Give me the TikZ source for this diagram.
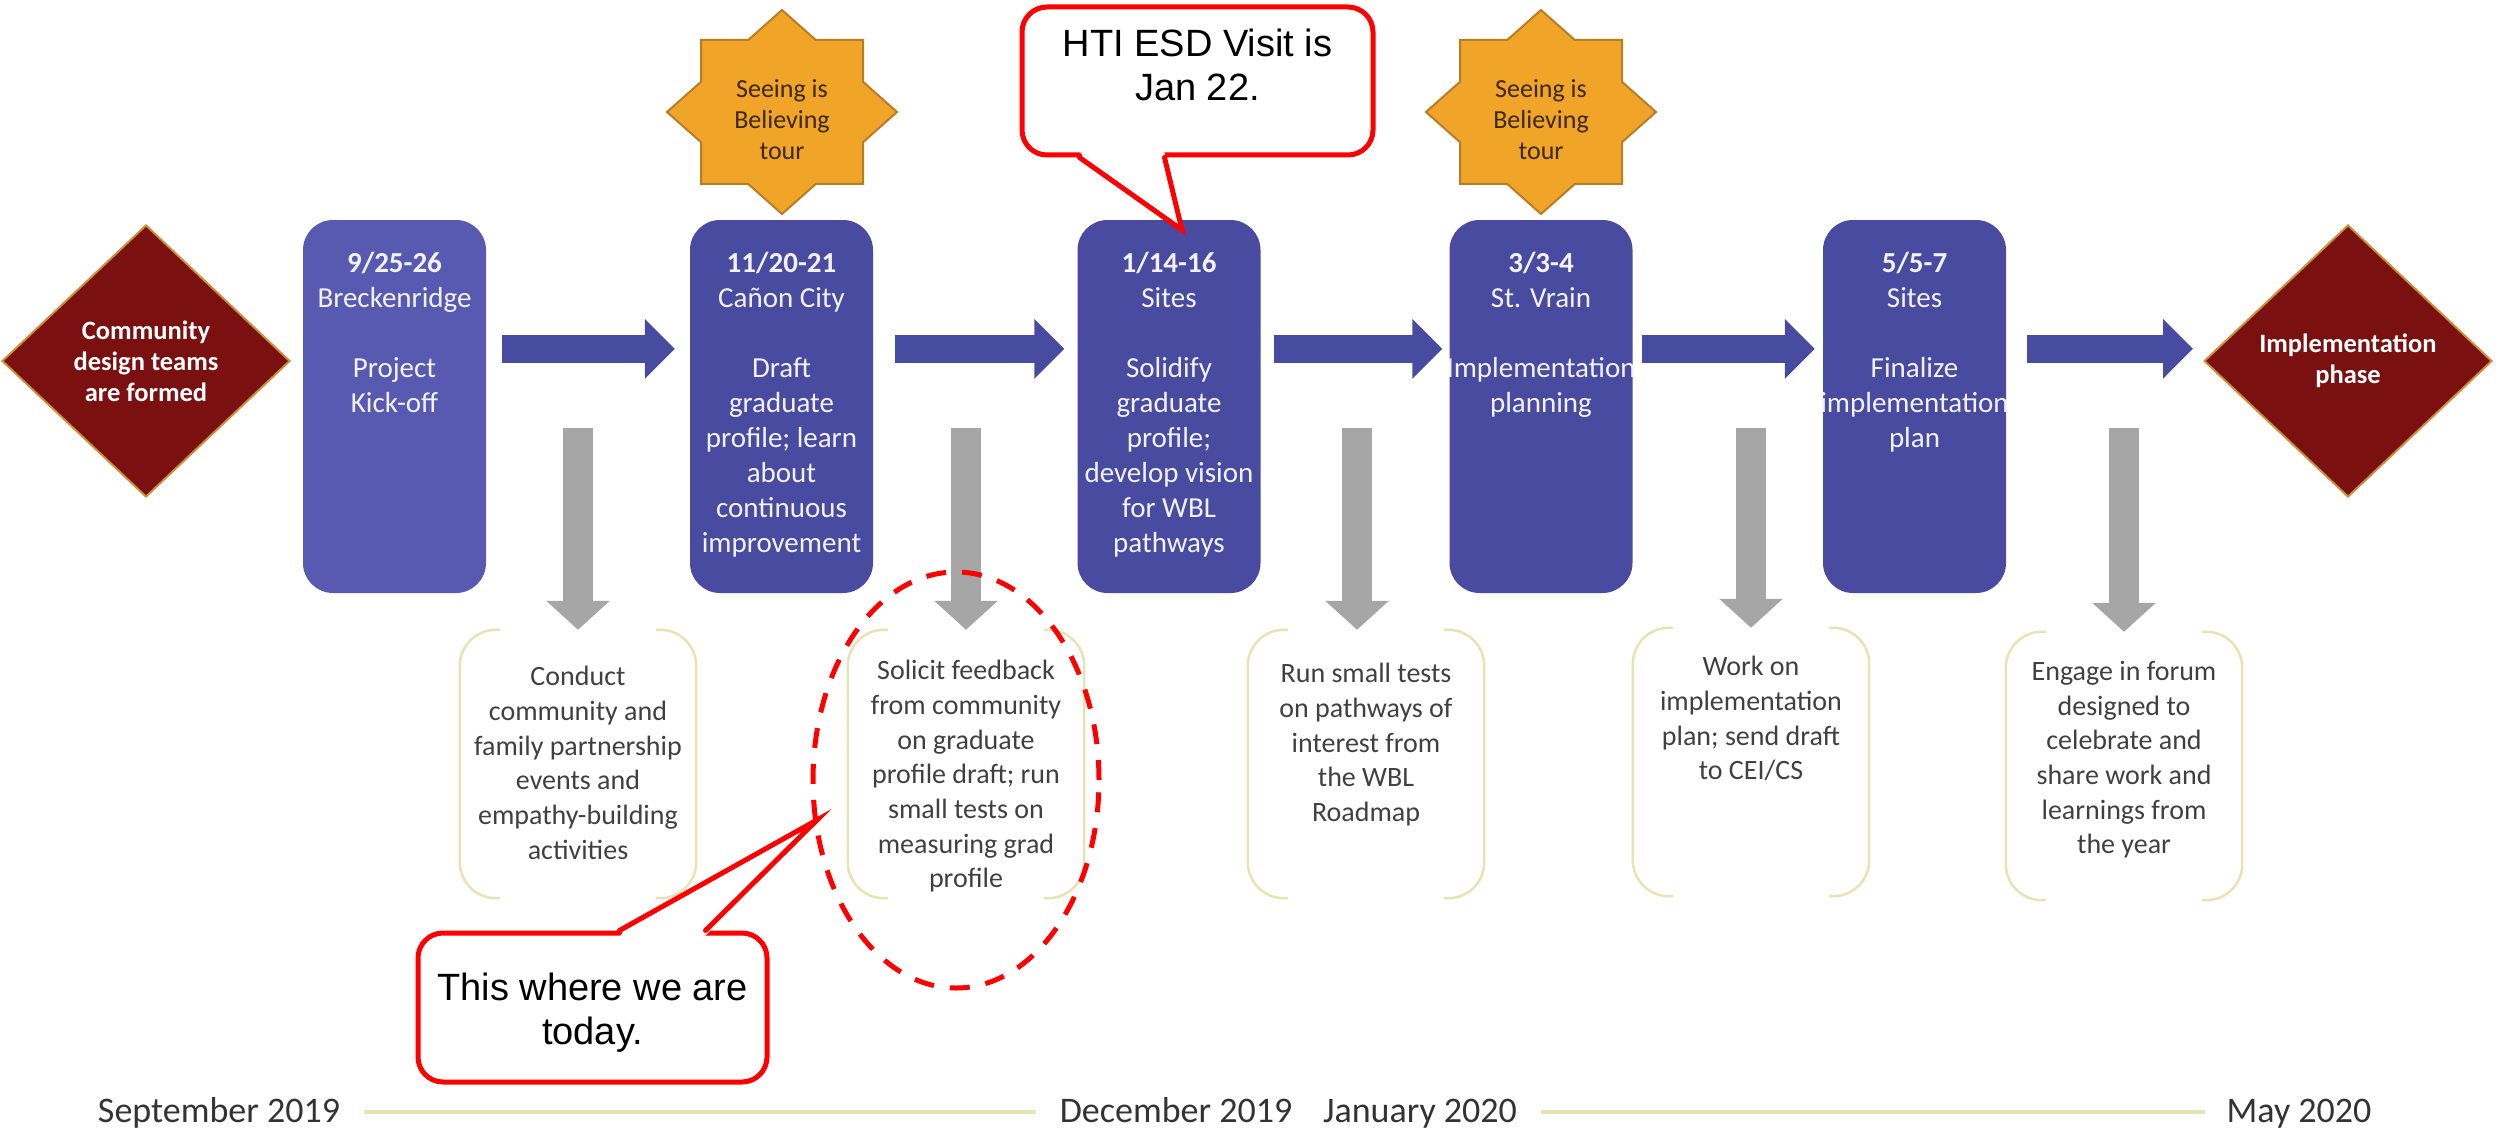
\documentclass[tikz,border=0pt]{standalone}
\usepackage{fontspec}
\setmainfont{Carlito}
\newfontfamily\arialfont{Liberation Sans}
\usetikzlibrary{arrows.meta,shapes.geometric,calc}

\definecolor{boxblue}{RGB}{73,75,160}
\definecolor{boxblueL}{RGB}{88,90,178}
\definecolor{arrowblue}{RGB}{72,76,160}
\definecolor{milered}{RGB}{122,16,16}
\definecolor{mileedge}{RGB}{205,140,60}
\definecolor{starfill}{RGB}{240,164,40}
\definecolor{staredge}{RGB}{185,125,35}
\definecolor{startext}{RGB}{60,40,10}
\definecolor{arrowgray}{RGB}{166,166,166}
\definecolor{bracketcol}{RGB}{232,226,180}
\definecolor{bodytext}{RGB}{64,64,64}
\definecolor{boxtext}{RGB}{242,242,250}
\definecolor{calred}{RGB}{255,0,0}

\newcommand\eightstar[1]{%
  \draw[starshape] ($(#1)+(0,-102)$) -- ($(#1)+(33.8,-72)$) -- ($(#1)+(81,-72)$) -- ($(#1)+(81,-30.2)$)
   -- ($(#1)+(115,0)$) -- ($(#1)+(81,30.2)$) -- ($(#1)+(81,72)$) -- ($(#1)+(33.8,72)$)
   -- ($(#1)+(0,102)$) -- ($(#1)+(-33.8,72)$) -- ($(#1)+(-81,72)$) -- ($(#1)+(-81,30.2)$)
   -- ($(#1)+(-115,0)$) -- ($(#1)+(-81,-30.2)$) -- ($(#1)+(-81,-72)$) -- ($(#1)+(-33.8,-72)$) -- cycle;}

\newcommand\brackets[1]{%
  \draw[bracket] ([xshift=40pt]#1.north west) -- (#1.north west) -- (#1.south west) -- ([xshift=40pt]#1.south west);
  \draw[bracket] ([xshift=-40pt]#1.north east) -- (#1.north east) -- (#1.south east) -- ([xshift=-40pt]#1.south east);}

\begin{document}
\begin{tikzpicture}[x=1pt,y=-1pt,
  stepbox/.style={rectangle, rounded corners=30pt, fill=boxblue, minimum width=183pt, minimum height=373pt, inner sep=0pt},
  boxtxt/.style={anchor=north, inner sep=0pt, align=center, text=boxtext, font=\fontsize{29}{35}\selectfont},
  milestone/.style={diamond, fill=milered, draw=mileedge, line width=2pt, minimum width=288pt, minimum height=272pt, inner sep=0pt, align=center, text=white, font=\bfseries\fontsize{26.5}{31}\selectfont},
  flowarrow/.style={color=arrowblue, line width=28pt, -{Triangle[length=30pt,width=58pt]}},
  downarrow/.style={color=arrowgray, line width=30pt, -{Triangle[length=29pt,width=62pt]}},
  notebox/.style={rectangle, minimum width=236pt, minimum height=268pt, inner sep=0pt},
  bracket/.style={draw=bracketcol, line width=2.5pt, rounded corners=36pt},
  notetxt/.style={anchor=north, inner sep=0pt, align=center, text=bodytext, font=\fontsize{28}{34.7}\selectfont},
  starshape/.style={fill=starfill, draw=staredge, line width=2pt},
  startxt/.style={inner sep=0pt, align=center, text=startext, font=\fontsize{26}{31}\selectfont},
  calloutline/.style={draw=calred, line width=5pt},
  calloutbox/.style={calloutline, fill=white, rounded corners=25pt, inner sep=0pt},
  callouttxt/.style={inner sep=0pt, align=center, text=black, font=\arialfont\fontsize{38}{44}\selectfont},
  timetxt/.style={anchor=base, inner sep=0pt, text=black!80, font=\fontsize{36}{40}\selectfont},
  timeline/.style={draw=bracketcol, line width=4pt}
]
\useasboundingbox (0,0) rectangle (2496,1134);

% milestones
\node[milestone] (start) at (146,361) {Community\\design teams\\are formed};
\node[milestone] (finish) at (2348,361) {Implementation\\phase};

% step boxes
\node[stepbox, fill=boxblueL] (b1) at (394.5,406.5) {};
\node[stepbox] (b2) at (781.5,406.5) {};
\node[stepbox] (b3) at (1169,406.5) {};
\node[stepbox] (b4) at (1541,406.5) {};
\node[stepbox] (b5) at (1914.5,406.5) {};

\node[boxtxt] (b1t) at (394.5,252) {\textbf{9/25-26}\\Breckenridge\\[35pt]Project\\Kick-off};
\node[boxtxt] (b2t) at (781.5,252) {\textbf{11/20-21}\\Cañon City\\[35pt]Draft\\graduate\\profile; learn\\about\\continuous\\improvement};
\node[boxtxt] (b3t) at (1169,252) {\textbf{1/14-16}\\Sites\\[35pt]Solidify\\graduate\\profile;\\develop vision\\for WBL\\pathways};
\node[boxtxt] (b4t) at (1541,252) {\textbf{3/3-4}\\St. Vrain\\[35pt]Implementation\\planning};
\node[boxtxt] (b5t) at (1914.5,252) {\textbf{5/5-7}\\Sites\\[35pt]Finalize\\implementation\\plan};

% flow arrows
\draw[flowarrow, shorten <=16pt, shorten >=15pt] ([yshift=-129pt]b1.north east) -- ([yshift=-129pt]b2.north west);
\draw[flowarrow, shorten <=22pt, shorten >=13pt] ([yshift=-129pt]b2.north east) -- ([yshift=-129pt]b3.north west);
\draw[flowarrow, shorten <=13pt, shorten >=7pt] ([yshift=-129pt]b3.north east) -- ([yshift=-129pt]b4.north west);
\draw[flowarrow, shorten <=9pt, shorten >=8pt] ([yshift=-129pt]b4.north east) -- ([yshift=-129pt]b5.north west);
\draw[flowarrow, shorten <=21pt, shorten >=10pt] ([yshift=-129pt]b5.north east) -- ([yshift=-129pt]b5.north east -| finish.west);

% stars
\coordinate (s1c) at (782,112);
\coordinate (s2c) at (1541,112);
\eightstar{s1c}
\eightstar{s2c}
\node[startxt] (s1) at (782,120) {Seeing is\\Believing\\tour};
\node[startxt] (s2) at (1541,120) {Seeing is\\Believing\\tour};

% note boxes
\node[notebox] (n1) at (578,764) {};
\node[notebox] (n2) at (966,764) {};
\node[notebox] (n3) at (1366,764) {};
\node[notebox] (n4) at (1751,762) {};
\node[notebox] (n5) at (2124,766) {};
\brackets{n1}
\brackets{n2}
\brackets{n3}
\brackets{n4}
\brackets{n5}

\node[notetxt] (n1t) at (578,666) {Conduct\\community and\\family partnership\\events and\\empathy-building\\activities};
\node[notetxt] (n2t) at (966,660) {Solicit feedback\\from community\\on graduate\\profile draft; run\\small tests on\\measuring grad\\profile};
\node[notetxt] (n3t) at (1366,663) {Run small tests\\on pathways of\\interest from\\the WBL\\Roadmap};
\node[notetxt] (n4t) at (1751,656) {Work on\\implementation\\plan; send draft\\to CEI/CS};
\node[notetxt] (n5t) at (2124,661) {Engage in forum\\designed to\\celebrate and\\share work and\\learnings from\\the year};

% down arrows
\coordinate (g1) at (578,428);
\coordinate (g2) at (966,428);
\coordinate (g3) at (1357,428);
\coordinate (g4) at (1751,428);
\coordinate (g5) at (2124,428);
\draw[downarrow] (g1) -- (g1 |- n1.north);
\draw[downarrow] (g2) -- (g2 |- n2.north);
\draw[downarrow] (g3) -- (g3 |- n3.north);
\draw[downarrow] (g4) -- (g4 |- n4.north);
\draw[downarrow] (g5) -- (g5 |- n5.north);

% HTI callout
\node[calloutbox, minimum width=351pt, minimum height=148pt] (hti) at (1197.5,81) {};
\coordinate (htitip) at (1182,230);
\fill[white] ($(hti.south west)+(62,-6)$) rectangle ($(hti.south west)+(143,6)$);
\fill[white] ($(hti.south west)+(60,-5)$) -- (htitip) -- ($(hti.south west)+(145,-5)$) -- cycle;
\draw[calloutline, line cap=round, line join=miter] ($(hti.south west)+(60,0)$) -- (htitip) -- ($(hti.south west)+(145,0)$);
\node[callouttxt, anchor=north] (htitext) at (1197.5,29) {HTI ESD Visit is\\Jan 22.};

% today callout
\node[calloutbox, minimum width=349pt, minimum height=149pt] (today) at (592.5,1007.5) {};
\coordinate (todaytip) at (817,820);
\fill[white] ($(today.north west)+(206,-6)$) rectangle ($(today.north west)+(288,6)$);
\fill[white] ($(today.north west)+(204,5)$) -- (todaytip) -- ($(today.north west)+(290,5)$) -- cycle;
\draw[calloutline, line cap=round, line join=miter] ($(today.north west)+(204,0)$) -- (todaytip) -- ($(today.north west)+(290,0)$);
\node[callouttxt] (todaytext) at (592.5,1013) {This where we are\\today.};

% focus ellipse
\node[ellipse, draw=calred, line width=5pt, dash pattern=on 20pt off 16pt, minimum width=286pt, minimum height=416pt, inner sep=0pt] (focus) at (956,780) {};

% timeline
\node[timetxt] (t1) at (219,1122) {September 2019};
\node[timetxt] (t2) at (1176,1122) {December 2019};
\node[timetxt] (t3) at (1420,1122) {January 2020};
\node[timetxt] (t4) at (2299,1122) {May 2020};
\draw[timeline, shorten <=24pt, shorten >=24pt] ([yshift=10pt]t1.base east) -- ([yshift=10pt]t2.base west);
\draw[timeline, shorten <=24pt, shorten >=21pt] ([yshift=10pt]t3.base east) -- ([yshift=10pt]t4.base west);
\end{tikzpicture}
\end{document}
